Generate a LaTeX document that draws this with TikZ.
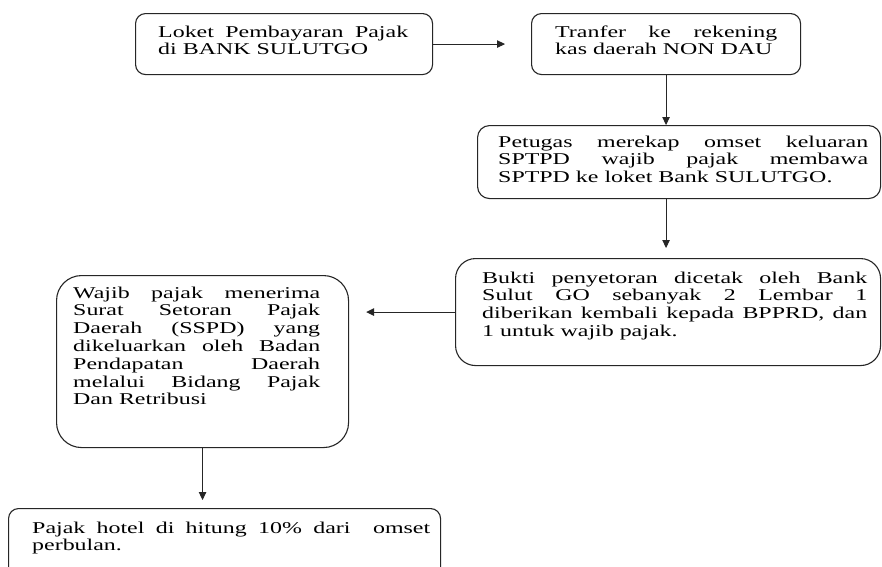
\documentclass[tikz,border=0pt]{standalone}
\usepackage{fontspec}
\setmainfont{Liberation Serif}[FakeStretch=1.45]
\usetikzlibrary{arrows.meta}
\hyphenpenalty=10000
\exhyphenpenalty=10000
\tolerance=10000
\newcommand{\boxfont}{\fontsize{16.5}{17.8}\selectfont}
\tikzset{
  box/.style={draw=black!85, line width=1.1pt, rounded corners=#1, anchor=north west, inner sep=0pt},
  box/.default=10pt,
  txt/.style={anchor=base west, inner sep=0pt, align=justify, font={\boxfont}},
  arr/.style={draw=black!85, line width=1pt, -{Triangle[length=8pt,width=7.5pt]}}
}
\begin{document}
\begin{tikzpicture}[x=1pt,y=-1pt]
\useasboundingbox (0,0) rectangle (882,566);
\clip (0,0) rectangle (882,566);
\fill[white] (0,0) rectangle (882,566);
% boxes
\node[box=10pt, minimum width=297pt, minimum height=61pt] (b1) at (135,13) {};
\node[box=10pt, minimum width=269pt, minimum height=61pt] (b2) at (531,13) {};
\node[box=12pt, minimum width=403pt, minimum height=73pt] (b3) at (477,125) {};
\node[box=20pt, minimum width=425pt, minimum height=107pt] (b4) at (455,258) {};
\node[box=25pt, minimum width=292pt, minimum height=172pt] (b5) at (56,275) {};
\node[box=10pt, minimum width=432pt, minimum height=90pt] (b6) at (8,508) {};
% texts
\node[txt, text width=250pt] (t1) at (158,37) {Loket Pembayaran Pajak\linebreak di BANK SULUTGO};
\node[txt, text width=222pt] (t2) at (555,37) {Tranfer ke rekening\linebreak kas daerah NON DAU};
\node[txt, text width=370pt] (t3) at (498,147) {Petugas merekap omset keluaran\linebreak SPTPD wajib pajak membawa\linebreak SPTPD ke loket Bank SULUTGO.};
\node[txt, text width=385pt] (t4) at (482,283) {Bukti penyetoran dicetak oleh Bank\linebreak Sulut GO sebanyak 2 Lembar 1\linebreak diberikan kembali kepada BPPRD, dan\linebreak 1 untuk wajib pajak.};
\node[txt, text width=247pt] (t5) at (73,298) {Wajib pajak menerima\linebreak Surat Setoran Pajak\linebreak Daerah (SSPD) yang\linebreak dikeluarkan oleh Badan\linebreak Pendapatan Daerah\linebreak melalui Bidang Pajak\linebreak Dan Retribusi};
\node[txt, text width=398pt] (t6) at (32,533) {Pajak hotel di hitung 10\% dari \ omset\linebreak perbulan.};
% connectors
\draw[arr, shorten >=26pt] (b1.east) -- (b2.west);
\draw[arr] (b2.south) -- (b2.south |- b3.north);
\draw[arr, shorten >=10pt] (b2.south |- b3.south) -- (b2.south |- b4.north);
\draw[arr, shorten >=17pt] (b4.west) -- (b4.west -| b5.east);
\draw[arr, shorten >=8pt] (b5.south) -- (b5.south |- b6.north);
\end{tikzpicture}
\end{document}
